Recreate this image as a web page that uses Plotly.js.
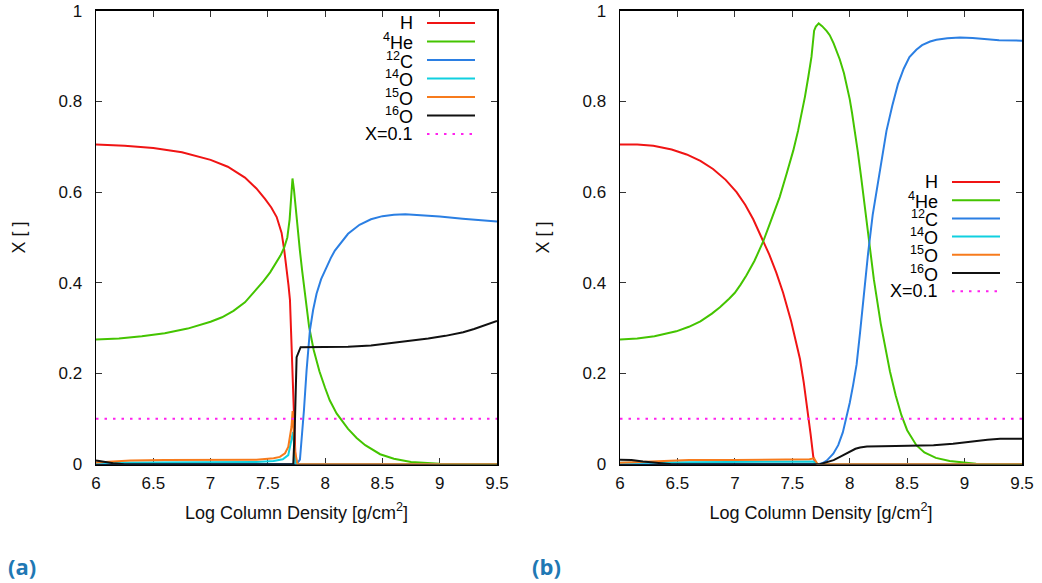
<!DOCTYPE html>
<html>
<head>
<meta charset="utf-8">
<script src="https://cdn.plot.ly/plotly-3.0.1.min.js"></script>
<style>
  html, body { margin: 0; padding: 0; background: #ffffff; }
  #chart { width: 1042px; height: 583px; }
</style>
</head>
<body>
<div id="chart"></div>
<script>
// ---- Panel (a): mass fractions vs log column density ----
const hA_x   = [6.0, 6.25, 6.5, 6.75, 7.0, 7.15, 7.3, 7.4, 7.475, 7.53, 7.577, 7.62, 7.643, 7.665, 7.68, 7.693, 7.708, 7.722, 7.735, 7.743, 8.0, 9.5];
const hA_y   = [0.705, 0.702, 0.697, 0.688, 0.671, 0.656, 0.632, 0.608, 0.585, 0.566, 0.545, 0.51, 0.472, 0.43, 0.395, 0.362, 0.25, 0.119, 0.03, 0.0, 0.0, 0.0];

const heA_x  = [6.0, 6.2, 6.4, 6.6, 6.8, 7.0, 7.1, 7.2, 7.3, 7.344, 7.4, 7.46, 7.52, 7.57, 7.61, 7.643, 7.67, 7.69, 7.705, 7.715, 7.728, 7.745, 7.76, 7.78, 7.8, 7.824, 7.86, 7.9, 7.95, 8.0, 8.04, 8.1, 8.2, 8.275, 8.35, 8.48, 8.6, 8.75, 9.0, 9.5];
const heA_y  = [0.275, 0.277, 0.282, 0.289, 0.299, 0.314, 0.324, 0.338, 0.357, 0.369, 0.385, 0.403, 0.423, 0.443, 0.46, 0.478, 0.5, 0.54, 0.59, 0.63, 0.605, 0.555, 0.515, 0.47, 0.425, 0.372, 0.303, 0.252, 0.205, 0.168, 0.141, 0.112, 0.078, 0.058, 0.042, 0.022, 0.012, 0.005, 0.001, 0.0];

const cA_x   = [6.0, 7.75, 7.78, 7.795, 7.815, 7.838, 7.867, 7.895, 7.925, 7.965, 8.013, 8.05, 8.085, 8.15, 8.2, 8.3, 8.4, 8.5, 8.6, 8.7, 8.85, 9.0, 9.2, 9.35, 9.5];
const cA_y   = [0.0, 0.0, 0.01, 0.05, 0.119, 0.207, 0.295, 0.34, 0.376, 0.408, 0.435, 0.455, 0.471, 0.493, 0.508, 0.528, 0.54, 0.547, 0.55, 0.551, 0.549, 0.546, 0.541, 0.538, 0.535];

const o14A_x = [6.0, 6.5, 7.0, 7.4, 7.55, 7.63, 7.678, 7.706, 7.72, 7.742, 9.5];
const o14A_y = [0.003, 0.004, 0.004, 0.005, 0.007, 0.011, 0.02, 0.06, 0.071, 0.0, 0.0];

const o15A_x = [6.0, 6.15, 6.3, 6.6, 7.0, 7.4, 7.55, 7.605, 7.65, 7.678, 7.706, 7.716, 7.735, 7.76, 9.5];
const o15A_y = [0.004, 0.006, 0.008, 0.009, 0.009, 0.01, 0.013, 0.016, 0.024, 0.038, 0.082, 0.117, 0.03, 0.0, 0.0];

const o16A_x = [6.0, 6.08, 6.15, 6.25, 7.722, 7.735, 7.751, 7.786, 8.04, 8.2, 8.4, 8.62, 8.8, 8.9, 9.05, 9.205, 9.3, 9.4, 9.5];
const o16A_y = [0.008, 0.005, 0.002, 0.0, 0.0, 0.08, 0.236, 0.258, 0.258, 0.259, 0.262, 0.268, 0.273, 0.277, 0.283, 0.291, 0.298, 0.307, 0.316];

// ---- Panel (b) ----
const hB_x   = [6.0, 6.15, 6.29, 6.45, 6.58, 6.7, 6.81, 6.92, 7.015, 7.09, 7.16, 7.245, 7.3, 7.36, 7.42, 7.49, 7.53, 7.567, 7.6, 7.63, 7.66, 7.683, 7.7, 7.72, 9.5];
const hB_y   = [0.705, 0.705, 0.702, 0.694, 0.683, 0.669, 0.651, 0.627, 0.6, 0.572, 0.54, 0.494, 0.462, 0.423, 0.378, 0.315, 0.275, 0.232, 0.18, 0.125, 0.065, 0.016, 0.003, 0.0, 0.0];

const heB_x  = [6.0, 6.15, 6.3, 6.49, 6.6, 6.7, 6.8, 6.87, 6.95, 7.0, 7.05, 7.1, 7.17, 7.245, 7.3, 7.35, 7.39, 7.45, 7.509, 7.55, 7.58, 7.61, 7.64, 7.667, 7.69, 7.705, 7.73, 7.76, 7.8, 7.826, 7.86, 7.89, 7.913, 7.95, 7.98, 8.0, 8.02, 8.04, 8.07, 8.1, 8.135, 8.17, 8.21, 8.27, 8.31, 8.35, 8.4, 8.45, 8.5, 8.58, 8.65, 8.75, 8.87, 9.0, 9.1, 9.5];
const heB_y  = [0.275, 0.277, 0.282, 0.293, 0.303, 0.315, 0.332, 0.346, 0.365, 0.378, 0.396, 0.416, 0.448, 0.49, 0.527, 0.56, 0.589, 0.64, 0.692, 0.735, 0.77, 0.81, 0.855, 0.898, 0.956, 0.965, 0.972, 0.966, 0.955, 0.946, 0.928, 0.91, 0.893, 0.862, 0.83, 0.805, 0.775, 0.742, 0.69, 0.632, 0.56, 0.487, 0.408, 0.31, 0.255, 0.205, 0.152, 0.108, 0.075, 0.042, 0.026, 0.014, 0.007, 0.003, 0.001, 0.0];

const cB_x   = [6.0, 7.727, 7.76, 7.8, 7.857, 7.9, 7.94, 7.97, 8.0, 8.03, 8.06, 8.09, 8.12, 8.16, 8.2, 8.25, 8.29, 8.32, 8.37, 8.42, 8.47, 8.52, 8.58, 8.63, 8.7, 8.755, 8.85, 8.96, 9.07, 9.19, 9.3, 9.5];
const cB_y   = [0.0, 0.0, 0.002, 0.008, 0.023, 0.042, 0.07, 0.1, 0.135, 0.175, 0.22, 0.29, 0.37, 0.465, 0.55, 0.63, 0.69, 0.735, 0.79, 0.838, 0.872, 0.898, 0.914, 0.924, 0.932, 0.936, 0.939, 0.941, 0.94, 0.937, 0.935, 0.934];

const o14B_x = [6.0, 6.5, 7.0, 7.5, 7.68, 7.72, 9.5];
const o14B_y = [0.003, 0.004, 0.004, 0.005, 0.006, 0.0, 0.0];

const o15B_x = [6.0, 6.2, 6.4, 6.6, 7.0, 7.5, 7.65, 7.69, 7.72, 9.5];
const o15B_y = [0.003, 0.005, 0.008, 0.009, 0.009, 0.01, 0.011, 0.013, 0.0, 0.0];

const o16B_x = [6.0, 6.1, 6.2, 6.3, 6.4, 6.45, 7.74, 7.8, 7.86, 7.915, 7.96, 8.0, 8.05, 8.09, 8.15, 8.4, 8.6, 8.73, 8.9, 9.02, 9.2, 9.31, 9.5];
const o16B_y = [0.01, 0.009, 0.006, 0.003, 0.001, 0.0, 0.0, 0.004, 0.009, 0.016, 0.022, 0.028, 0.034, 0.037, 0.039, 0.04, 0.041, 0.042, 0.045, 0.049, 0.054, 0.056, 0.056];

// Threshold line X = 0.1
const refX = [6.0, 9.5];
const refY = [0.1, 0.1];

// Legend labels, in drawing order
const speciesLabels = ['H', '<sup>4</sup>He', '<sup>12</sup>C', '<sup>14</sup>O', '<sup>15</sup>O', '<sup>16</sup>O', 'X=0.1'];
const speciesColors = ['#f01414', '#44c400', '#2b7fe3', '#10d0e0', '#f77b1c', '#111111', '#ff22ee'];

const xTitle = 'Log Column Density [g/cm<sup>2</sup>]';
const yTitle = 'X [ ]';
const panelTags = ['(a)', '(b)'];

const W = 1042, H = 583;
const px = v => v / W;
const py = v => 1 - v / H;

const panels = [
  { xa: 'x',  ya: 'y',  series: [[hA_x, hA_y], [heA_x, heA_y], [cA_x, cA_y], [o14A_x, o14A_y], [o15A_x, o15A_y], [o16A_x, o16A_y], [refX, refY]],
    legTextRight: 415, legLine: [427, 475], legTop: 23, legStep: 18.5, tagX: 22 },
  { xa: 'x2', ya: 'y2', series: [[hB_x, hB_y], [heB_x, heB_y], [cB_x, cB_y], [o14B_x, o14B_y], [o15B_x, o15B_y], [o16B_x, o16B_y], [refX, refY]],
    legTextRight: 940, legLine: [952, 1000], legTop: 182, legStep: 18.2, tagX: 546 }
];

const textFamily = 'Liberation Sans, Arial, Helvetica, sans-serif';
const traces = [];
const shapes = [];
const annotations = [];

panels.forEach((p, pi) => {
  p.series.forEach((s, i) => {
    const isRef = i === speciesLabels.length - 1;
    traces.push({
      type: 'scatter', mode: 'lines', x: s[0], y: s[1],
      xaxis: p.xa, yaxis: p.ya, name: speciesLabels[i], showlegend: false,
      line: { color: speciesColors[i], width: 2, dash: isRef ? '2.5px,6px' : 'solid', shape: 'linear' },
      hoverinfo: 'skip'
    });
    // legend key: label on the left, line sample on the right
    const rowY = p.legTop + i * p.legStep;
    annotations.push({
      xref: 'paper', yref: 'paper', x: px(p.legTextRight), y: py(rowY),
      xanchor: 'right', yanchor: 'middle', showarrow: false,
      text: speciesLabels[i],
      font: { family: textFamily, size: 18, color: '#000' }
    });
    shapes.push({
      type: 'line', xref: 'paper', yref: 'paper',
      x0: px(p.legLine[0]), x1: px(p.legLine[1]), y0: py(rowY), y1: py(rowY),
      line: { color: speciesColors[i], width: 2, dash: isRef ? '2.5px,6px' : 'solid' }
    });
  });
  annotations.push({
    xref: 'paper', yref: 'paper', x: px(p.tagX), y: py(566),
    xanchor: 'center', yanchor: 'middle', showarrow: false,
    text: '<b>' + panelTags[pi] + '</b>',
    font: { family: 'Open Sans, sans-serif', size: 22, color: '#1f78b4' }
  });
});

const tickFont = { family: textFamily, size: 17, color: '#111' };
const titleFont = { family: textFamily, size: 18, color: '#111' };

function xAxis(domain, anchor) {
  return {
    domain: domain, anchor: anchor, range: [6, 9.5], tick0: 6, dtick: 0.5,
    showline: true, linecolor: '#000', linewidth: 1.5, mirror: 'allticks',
    ticks: 'inside', ticklen: 6, tickwidth: 1, tickcolor: '#333',
    showgrid: false, zeroline: false, tickfont: tickFont, layer: 'below traces',
    ticklabelstandoff: 3,
    title: { text: xTitle, font: titleFont, standoff: 14 }
  };
}
function yAxis(domain, anchor) {
  return {
    domain: domain, anchor: anchor, range: [0, 1], tick0: 0, dtick: 0.2,
    showline: true, linecolor: '#000', linewidth: 1.5, mirror: 'allticks',
    ticks: 'inside', ticklen: 6, tickwidth: 1, tickcolor: '#333',
    showgrid: false, zeroline: false, tickfont: tickFont, layer: 'below traces',
    ticklabelstandoff: 9,
    title: { text: yTitle, font: titleFont, standoff: 28 }
  };
}

const yDom = [py(464.2), py(10.7)];
const layout = {
  width: W, height: H,
  margin: { l: 0, r: 0, t: 0, b: 0 },
  paper_bgcolor: '#fff', plot_bgcolor: '#fff',
  showlegend: false,
  xaxis:  xAxis([px(96), px(497)], 'y'),
  yaxis:  yAxis(yDom, 'x'),
  xaxis2: xAxis([px(620), px(1022)], 'y2'),
  yaxis2: yAxis(yDom, 'x2'),
  shapes: shapes,
  annotations: annotations
};

Plotly.newPlot('chart', traces, layout, { staticPlot: true, displayModeBar: false });
</script>
</body>
</html>
